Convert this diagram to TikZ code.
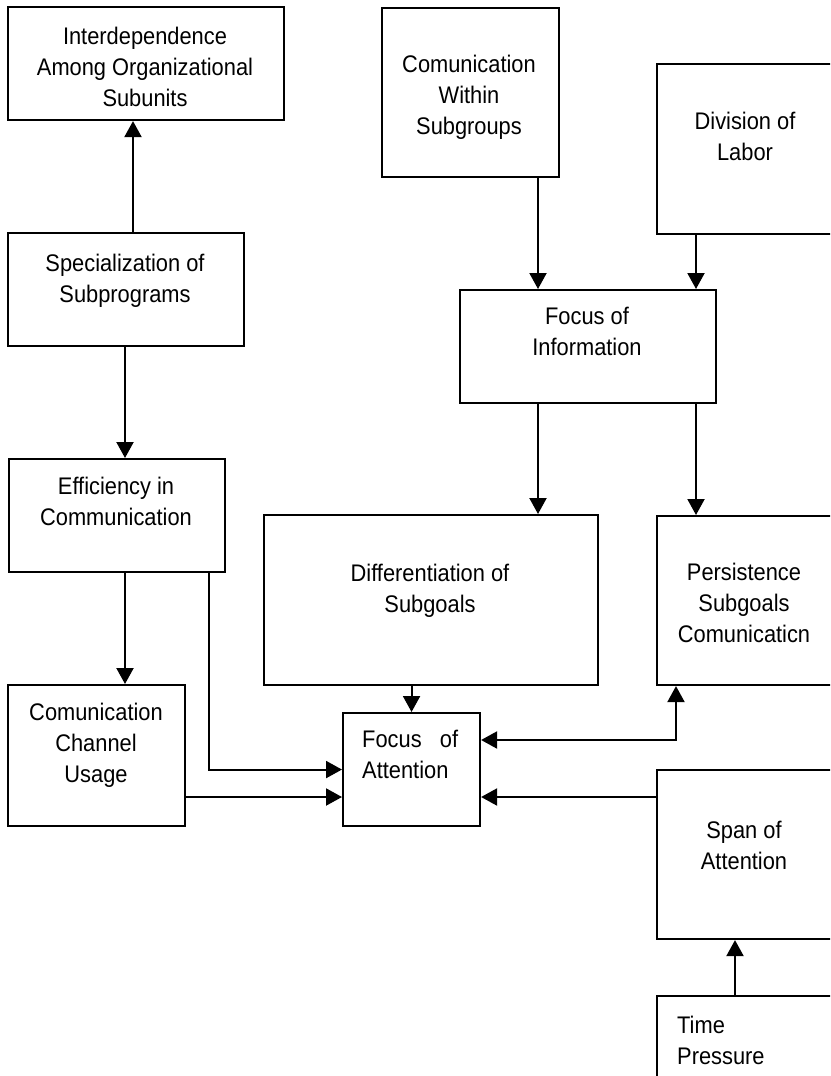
\documentclass[tikz,border=0pt]{standalone}
\usepackage{fontspec}
\setmainfont{Liberation Sans}[FakeStretch=0.91]
\usetikzlibrary{arrows.meta,calc}
\begin{document}
\begin{tikzpicture}[x=1pt,y=-1pt,
  box/.style={draw, line width=2.1pt, rectangle, anchor=north west, inner sep=0pt},
  lbl/.style={font=\fontsize{24}{31}\selectfont, align=center, inner sep=0pt,
    execute at begin node=\strut, execute at end node=\strut},
  arr/.style={line width=2.1pt, -{Triangle[length=16pt,width=17pt]}},
  dblarr/.style={line width=2.1pt, {Triangle[length=16pt,width=17pt]}-{Triangle[length=16pt,width=17pt]}}
]
\useasboundingbox (0,0) rectangle (830,1076);
\clip (0,0) rectangle (830,1076);

% boxes
\node[box, minimum width=276pt, minimum height=113pt] (inter) at (7,6) {};
\node[box, minimum width=236pt, minimum height=113pt] (spec) at (7,232) {};
\node[box, minimum width=216pt, minimum height=113pt] (eff) at (8,458) {};
\node[box, minimum width=177pt, minimum height=141pt] (ccu) at (7,684) {};
\node[box, minimum width=177pt, minimum height=169pt] (cw) at (381,7) {};
\node[box, minimum width=178pt, minimum height=170pt] (div) at (656,63) {};
\node[box, minimum width=256pt, minimum height=113pt] (foi) at (459,289) {};
\node[box, minimum width=334pt, minimum height=170pt] (diff) at (263,514) {};
\node[box, minimum width=178pt, minimum height=169pt] (pers) at (656,515) {};
\node[box, minimum width=137pt, minimum height=113pt] (foa) at (342,712) {};
\node[box, minimum width=178pt, minimum height=169pt] (span) at (656,769) {};
\node[box, minimum width=178pt, minimum height=95pt] (time) at (656,995) {};

% texts
\node[lbl] (tinter) at (145,71) {Interdependence\\Among Organizational\\Subunits};
\node[lbl] (tspec) at (125,283) {Specialization of\\Subprograms};
\node[lbl] (teff) at (116,506) {Efficiency in\\Communication};
\node[lbl] (tccu) at (96,747) {Comunication\\Channel\\Usage};
\node[lbl] (tcw) at (469,99.5) {Comunication\\Within\\Subgroups};
\node[lbl] (tdiv) at (745,140.5) {Division of\\Labor};
\node[lbl] (tfoi) at (587,336) {Focus of\\Information};
\node[lbl] (tdiff) at (430,593) {Differentiation of\\Subgoals};
\node[lbl] (tpers) at (744,607) {Persistence\\Subgoals\\Comunicaticn};
\node[lbl, align=left, anchor=west] (tfoa) at (362,759) {Focus\ \ \ of\\Attention};
\node[lbl] (tspan) at (744,849.5) {Span of\\Attention};
\node[lbl, align=left, anchor=west] (ttime) at (677,1045) {Time\\Pressure};

% helper coordinates
\coordinate (xa) at (133,0);
\coordinate (xb) at (125,0);
\coordinate (xc) at (209,0);
\coordinate (xd) at (538,0);
\coordinate (xe) at (696,0);
\coordinate (xf) at (676,0);
\coordinate (xg) at (735,0);
\coordinate (ya) at (0,740);
\coordinate (yb) at (0,797);

% connectors
\draw[arr] (spec.north -| xa) -- (inter.south -| xa);
\draw[arr] (spec.south -| xb) -- (eff.north -| xb);
\draw[arr] (eff.south -| xb) -- (ccu.north -| xb);
\draw[arr] (eff.south -| xc) |- (foa.west);
\draw[arr] (ccu.east |- yb) -- (foa.west |- yb);
\draw[arr] (cw.south -| xd) -- (foi.north -| xd);
\draw[arr] (div.south -| xe) -- (foi.north -| xe);
\draw[arr] (foi.south -| xd) -- (diff.north -| xd);
\draw[arr] (foi.south -| xe) -- (pers.north -| xe);
\draw[arr] (diff.south -| foa.north) -- (foa.north);
\draw[dblarr] (foa.east |- ya) -- (xf |- ya) -- (pers.south -| xf);
\draw[arr] (span.west |- yb) -- (foa.east |- yb);
\draw[arr] (time.north -| xg) -- (span.south -| xg);
\end{tikzpicture}
\end{document}
